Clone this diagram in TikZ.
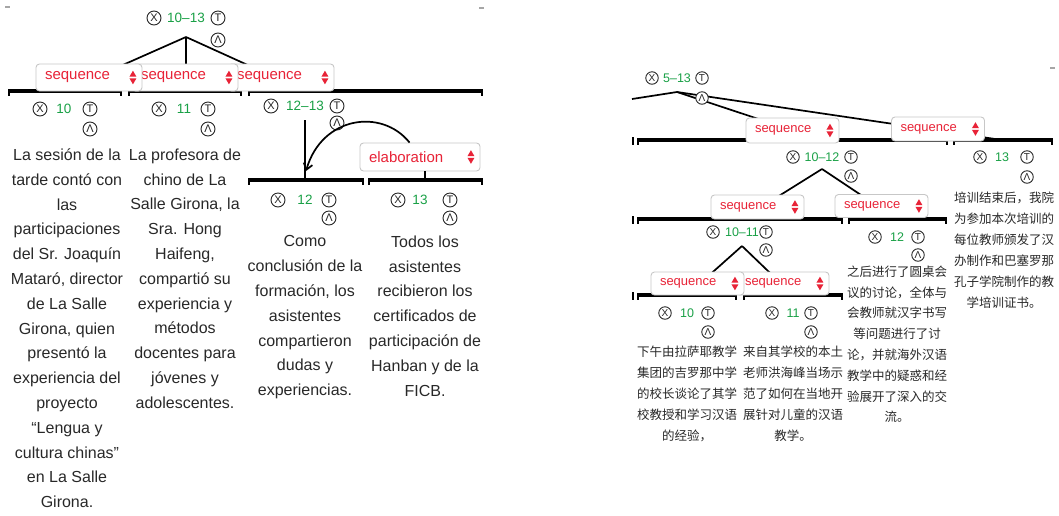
\documentclass[tikz,border=0pt]{standalone}
\usepackage{fontspec}
\setmainfont{Liberation Sans}
\newfontfamily\cjk{Noto Sans CJK SC}
\usetikzlibrary{arrows.meta,calc}
\definecolor{seqred}{RGB}{232,35,55}
\definecolor{spgreen}{RGB}{25,160,70}
\definecolor{txtgray}{RGB}{40,40,40}
\newcommand\spanL[7]{%
  \node[icoL] (#1x) at (#2,#5) {X};
  \node[lblL] (#1) at (#3,#5) {#7};
  \node[icoL] (#1t) at (#4,#5) {T};
  \node[icoL] (#1l) at (#4,#6) {Λ};}
\newcommand\spanS[7]{%
  \node[icoS] (#1x) at (#2,#5) {X};
  \node[lblS] (#1) at (#3,#5) {#7};
  \node[icoS] (#1t) at (#4,#5) {T};
  \node[icoS] (#1l) at (#4,#6) {Λ};}
\newcommand\segbar[3]{%
  \draw[bar] (#1,#3) -- (#2,#3);
  \draw[tick] (#1+1,#3) -- (#1+1,#3+5);
  \draw[tick] (#2-1,#3) -- (#2-1,#3+5);}
\newcommand\updown[1]{%
  \fill[seqred] ($(#1.east)+(-13,-0.8)$) -- ++(7,0) -- ++(-3.5,-6) -- cycle;
  \fill[seqred] ($(#1.east)+(-13,0.8)$) -- ++(7,0) -- ++(-3.5,6) -- cycle;}
\begin{document}
\begin{tikzpicture}[x=1pt,y=-1pt,
  icoL/.style={circle, draw=black!85, line width=0.9pt, inner sep=0pt, minimum size=14pt, fill=white, font=\fontsize{11}{11}\selectfont, text=black!85},
  icoS/.style={icoL, minimum size=12.5pt, font=\fontsize{10}{10}\selectfont},
  lblL/.style={text=spgreen, inner sep=0pt, font=\fontsize{13.5}{13.5}\selectfont},
  lblS/.style={text=spgreen, inner sep=0pt, font=\fontsize{12.5}{12.5}\selectfont},
  bar/.style={line width=4pt, black},
  tick/.style={line width=2pt, black},
  rel/.style={line width=1.7pt, black},
  relbase/.style={draw=black!22, line width=0.9pt, rounded corners=3.5pt, fill=white, text=seqred, inner xsep=9pt, inner ysep=0pt, align=left},
  relboxL/.style={relbase, text width=88pt, minimum height=27pt, font=\fontsize{15}{15}\selectfont},
  relboxR/.style={relbase, text width=75pt, minimum height=24pt, font=\fontsize{13}{13}\selectfont},
  relboxE/.style={relbase, text width=102pt, minimum height=28pt, font=\fontsize{15}{15}\selectfont},
  estxt/.style={align=center, anchor=north, inner sep=0pt, text=txtgray, font=\fontsize{16}{24.8}\selectfont},
  zhtxt/.style={align=center, anchor=north, inner sep=0pt, text=txtgray, font=\cjk\fontsize{12.5}{21}\selectfont}]
\useasboundingbox (0,0) rectangle (1059,515);

% corner marks
\draw[black!35, line width=1.5pt] (5,7) -- (10,7);
\draw[black!35, line width=1.5pt] (479,8) -- (484,8);
\draw[black!35, line width=1.5pt] (1050,68) -- (1055,68);

% ---------------- LEFT TREE ----------------
\coordinate (ap1013) at (186,37);
\coordinate (b10) at (64,91);
\coordinate (b11) at (186,91);
\coordinate (b1213) at (305,91);
\coordinate (v1213) at (305,120);
\coordinate (b12) at (305,180);
\coordinate (n12in) at (306,171);
\draw[rel] (ap1013) -- (b10);
\draw[rel] (ap1013) -- (b11);
\draw[rel] (ap1013) -- (b1213);
\draw[rel] (v1213) -- (b12);

\segbar{8}{122}{91}
\segbar{128}{242}{91}
\segbar{248}{483}{91}
\segbar{248}{364}{180}
\segbar{368}{483}{180}

\node[relboxL] (sq3) at (281,77.5) {sequence}; \updown{sq3}
\node[relboxL] (sq2) at (185,77.5) {sequence}; \updown{sq2}
\node[relboxL] (sq1) at (89,77.5) {sequence}; \updown{sq1}
\node[relboxE] (elab) at (420,157) {elaboration}; \updown{elab}
\coordinate (elabtop) at ($(elab.north west)+(50,0)$);
\coordinate (b13) at (425,180);
\draw[rel] ($(elab.south)+(5,0)$) -- (b13);

\spanL{s1013}{154}{186}{218}{18}{40}{10–13}
\spanL{s10}{40}{64}{90}{109}{129}{10}
\spanL{s11}{159}{184}{208}{109}{129}{11}
\spanL{s1213}{271}{305}{337}{106}{123}{12–13}
\spanL{s12}{278}{305}{329}{200}{218}{12}
\spanL{s13}{398}{420}{450}{200}{218}{13}

\draw[rel, -{Straight Barb[length=6pt,width=9pt]}] (elabtop) .. controls (382,108) and (322,116) .. (n12in);

\node[estxt] (t10) at (67,148.5) {La sesión de la\\tarde contó con\\las\\participaciones\\del Sr. Joaquín\\Mataró, director\\de La Salle\\Girona, quien\\presentó la\\experiencia del\\proyecto\\“Lengua y\\cultura chinas”\\en La Salle\\Girona.};
\node[estxt] (t11) at (185,148.5) {La profesora de\\chino de La\\Salle Girona, la\\Sra. Hong\\Haifeng,\\compartió su\\experiencia y\\métodos\\docentes para\\jóvenes y\\adolescentes.};
\node[estxt] (t12) at (305,235.5) {Como\\conclusión de la\\formación, los\\asistentes\\compartieron\\dudas y\\experiencias.};
\node[estxt] (t13) at (425,235.5) {Todos los\\asistentes\\recibieron los\\certificados de\\participación de\\Hanban y de la\\FICB.};

% ---------------- RIGHT TREE ----------------
\coordinate (edgeL) at (632,99);
\coordinate (ap513) at (677,92);
\coordinate (rb1012) at (822,140);
\coordinate (rb13) at (1002,140);
\coordinate (ap1012) at (822,169);
\coordinate (rb1011) at (742,219);
\coordinate (rb12) at (897,219);
\coordinate (ap1011) at (742,246);
\coordinate (rb10) at (687,295);
\coordinate (rb11) at (793,295);
\draw[rel] (edgeL) -- (ap513);
\draw[rel] (ap513) -- (rb1012);
\draw[rel] (ap513) -- (rb13);
\draw[rel] (ap1012) -- (rb1011);
\draw[rel] (ap1012) -- (rb12);
\draw[rel] (ap1011) -- (rb10);
\draw[rel] (ap1011) -- (rb11);

\draw[tick] (633,137) -- (633,145);
\draw[tick] (633,216) -- (633,224);
\draw[tick] (633,292) -- (633,300);
\segbar{637}{948}{140}
\segbar{953}{1053}{140}
\segbar{637}{843}{219}
\segbar{848}{947}{219}
\segbar{637}{737}{295}
\segbar{743}{843}{295}

\node[relboxR, minimum height=25pt] (rsA) at (792.5,130.5) {sequence}; \updown{rsA}
\node[relboxR] (rsB) at (938,129) {sequence}; \updown{rsB}
\node[relboxR] (rsC) at (757.5,207) {sequence}; \updown{rsC}
\node[relboxR, minimum height=23pt] (rsD) at (881.5,206) {sequence}; \updown{rsD}
\node[relboxR, minimum height=23pt] (rsF) at (782.5,283.5) {sequence}; \updown{rsF}
\node[relboxR, minimum height=23pt] (rsE) at (697.5,283.5) {sequence}; \updown{rsE}

\spanS{r513}{652}{677}{702}{78}{98}{5–13}
\spanS{r1012}{793}{822}{851}{157}{176}{10–12}
\spanS{r13}{980}{1002}{1027}{157}{177}{13}
\spanS{r1011}{713}{742}{766}{232}{250}{10–11}
\spanS{r12}{875}{897}{918}{237}{255}{12}
\spanS{r10}{665}{687}{708}{313}{332}{10}
\spanS{r11}{772}{793}{811}{313}{332}{11}

\node[zhtxt] (c10) at (687,345.5) {下午由拉萨耶教学\\集团的吉罗那中学\\的校长谈论了其学\\校教授和学习汉语\\的经验，};
\node[zhtxt] (c11) at (793,345.5) {来自其学校的本土\\老师洪海峰当场示\\范了如何在当地开\\展针对儿童的汉语\\教学。};
\node[zhtxt, font=\cjk\fontsize{12.5}{20.8}\selectfont] (c12) at (897,265.5) {之后进行了圆桌会\\议的讨论，全体与\\会教师就汉字书写\\等问题进行了讨\\论，并就海外汉语\\教学中的疑惑和经\\验展开了深入的交\\流。};
\node[zhtxt] (c13) at (1004,191.5) {培训结束后，我院\\为参加本次培训的\\每位教师颁发了汉\\办制作和巴塞罗那\\孔子学院制作的教\\学培训证书。};
\end{tikzpicture}
\end{document}
